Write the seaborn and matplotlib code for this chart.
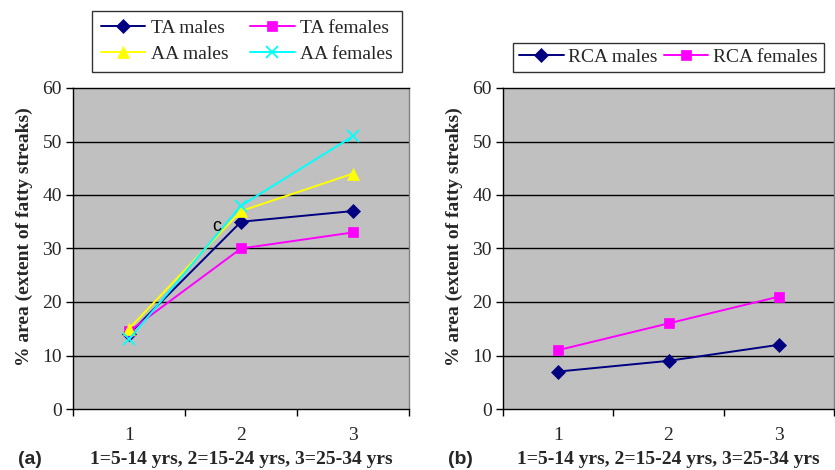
import matplotlib
matplotlib.use("Agg")
import matplotlib.pyplot as plt
import seaborn as sns
import pandas as pd
from matplotlib.ticker import FixedLocator, NullFormatter

age_groups = [1, 2, 3]
x_labels = ["1", "2", "3"]

ta_males = [14, 35, 37]
ta_females = [14.5, 30, 33]
aa_males = [15, 37, 44]
aa_females = [13, 38, 51]

rca_males = [7, 9, 12]
rca_females = [11, 16, 21]

y_label = "% area (extent of fatty streaks)"
x_title = "1=5-14 yrs, 2=15-24 yrs, 3=25-34 yrs"

sns.set_theme(style="white")
plt.rcParams['font.family'] = ['Liberation Serif', 'DejaVu Serif']

fig = plt.figure(figsize=(8.35, 4.70), dpi=100)
W, H = 835, 470
axA = fig.add_axes([73 / W, 1 - 409 / H, (409 - 73) / W, (409 - 88) / H])
axB = fig.add_axes([503 / W, 1 - 409 / H, (834 - 503) / W, (409 - 88) / H])

left_series = [
    ("TA males", ta_males, "#000080", "D", 7),
    ("TA females", ta_females, "#FF00FF", "s", 7),
    ("AA males", aa_males, "#FFFF00", "^", 8),
    ("AA females", aa_females, "#00FFFF", "x", 8),
]
right_series = [
    ("RCA males", rca_males, "#000080", "D", 7),
    ("RCA females", rca_females, "#FF00FF", "s", 7),
]

FS = 14


def draw(ax, series, width_px):
    for name, vals, col, mk, ms in series:
        df = pd.DataFrame({"x": age_groups, "y": vals})
        sns.lineplot(data=df, x="x", y="y", ax=ax, color=col, marker=mk,
                     markersize=ms, markeredgecolor=col, markeredgewidth=1.3 if mk == "x" else 0.5,
                     linewidth=1.4, label=name, zorder=3)
    ax.set_facecolor("#C0C0C0")
    ax.set_xlim(0.5, 3.5)
    ax.set_ylim(0, 60)
    ax.set_yticks([0, 10, 20, 30, 40, 50, 60])
    ax.set_yticklabels(["0", "10", "20", "30", "40", "50", "60"])
    for v in [10, 20, 30, 40, 50]:
        ax.axhline(v, color="black", linewidth=1.0, zorder=1)
    ax.xaxis.set_major_locator(FixedLocator([0.5, 1.5, 2.5, 3.5]))
    ax.xaxis.set_major_formatter(NullFormatter())
    ax.xaxis.set_minor_locator(FixedLocator(age_groups))
    ax.set_xticklabels(x_labels, minor=True)
    ax.tick_params(axis="x", which="major", direction="out", length=5, width=1, color="black", bottom=True)
    ax.tick_params(axis="x", which="minor", length=0, pad=13, labelsize=FS)
    ax.tick_params(axis="y", direction="out", length=5, width=1, color="black", left=True, labelsize=FS, pad=3)
    for s in ["left", "bottom", "top"]:
        ax.spines[s].set_color("black")
        ax.spines[s].set_linewidth(1.0)
    ax.spines["right"].set_color("#808080")
    ax.spines["right"].set_linewidth(1.0)
    ax.set_xlabel("")
    ax.set_ylabel(y_label, fontsize=FS, fontweight="bold")
    ax.yaxis.set_label_coords(-40 / width_px, 0.537)
    ax.grid(False)


draw(axA, left_series, 409 - 73)
draw(axB, right_series, 834 - 503)

hA, lA = axA.get_legend_handles_labels()
order = [0, 2, 1, 3]
legA = axA.legend([hA[i] for i in order], [lA[i] for i in order], ncol=2, loc="lower left",
                  bbox_to_anchor=((92 - 73) / (409 - 73), (409 - 72) / (409 - 88), (402 - 92) / (409 - 73), 0.18),
                  mode="expand", frameon=True, fancybox=False, edgecolor="black", fontsize=FS,
                  handlelength=2.3, columnspacing=1.0, borderpad=0.45, labelspacing=0.45, handletextpad=0.3,
                  borderaxespad=0)
legA.get_frame().set_linewidth(1.0)
legB = axB.legend(ncol=2, loc="lower left", bbox_to_anchor=((513 - 503) / (834 - 503), (409 - 72) / (409 - 88)),
                  frameon=True, fancybox=False, edgecolor="black", fontsize=FS,
                  handlelength=2.3, columnspacing=0.3, borderpad=0.3, handletextpad=0.25, borderaxespad=0)
legB.get_frame().set_linewidth(1.0)

axA.text(1.74, 33.3, "c", fontsize=13, family=["Liberation Sans", "DejaVu Sans"], color="black", zorder=4)

fig.text(18 / W, 1 - 459 / H, "(a)", fontsize=FS, fontweight="bold", family=["Liberation Sans", "DejaVu Sans"], va="center")
fig.text(448 / W, 1 - 459 / H, "(b)", fontsize=FS, fontweight="bold", family=["Liberation Sans", "DejaVu Sans"], va="center")
fig.text(241 / W, 1 - 459 / H, x_title, fontsize=FS, fontweight="bold", ha="center", va="center")
fig.text(668 / W, 1 - 459 / H, x_title, fontsize=FS, fontweight="bold", ha="center", va="center")

fig.savefig("out.png", dpi=100)
